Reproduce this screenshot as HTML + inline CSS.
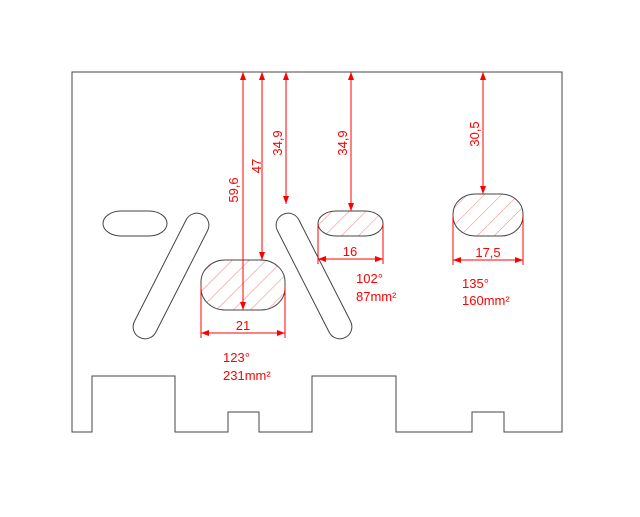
<!DOCTYPE html>
<html><head><style>html,body{margin:0;padding:0;background:#fff}</style></head><body>
<svg width="640" height="512" viewBox="0 0 640 512" xmlns="http://www.w3.org/2000/svg" font-family="Liberation Sans, sans-serif">
<defs>
<pattern id="h" patternUnits="userSpaceOnUse" width="12" height="12" patternTransform="rotate(45)">
<line x1="0" y1="0" x2="0" y2="12" stroke="#f08080" stroke-width="1"/>
</pattern>
<marker id="a" markerWidth="8" markerHeight="6" refX="8" refY="3" orient="auto-start-reverse" markerUnits="userSpaceOnUse">
<path d="M0,0 L8,3 L0,6 z" fill="red"/>
</marker>
</defs>
<g fill="none" stroke="#444" stroke-width="1">
<path d="M72,72 H562 V432 H504 V412 H472 V432 H396 V376 H312 V432 H259 V412 H228 V432 H175 V376 H92 V432 H72 Z"/>
<rect x="103" y="211" width="64" height="25" rx="18" ry="12.5"/>
<rect x="159" y="207" width="24" height="138" rx="12" transform="rotate(27 171 276)"/>
<rect x="302" y="207" width="24" height="138" rx="12" transform="rotate(-27 314 276)"/>
<rect x="201" y="260" width="84" height="50" rx="24" ry="22" fill="url(#h)"/>
<rect x="318" y="211" width="65" height="25" rx="18" ry="12.5" fill="url(#h)"/>
<rect x="453" y="194" width="70" height="42" rx="22" ry="20" fill="url(#h)"/>
</g>
<g stroke="red" stroke-width="1" fill="none">
<line x1="243" y1="72" x2="243" y2="310" marker-start="url(#a)" marker-end="url(#a)"/>
<line x1="262" y1="72" x2="262" y2="260" marker-start="url(#a)" marker-end="url(#a)"/>
<line x1="286" y1="72" x2="286" y2="204" marker-start="url(#a)" marker-end="url(#a)"/>
<line x1="351" y1="72" x2="351" y2="211" marker-start="url(#a)" marker-end="url(#a)"/>
<line x1="483" y1="72" x2="483" y2="194" marker-start="url(#a)" marker-end="url(#a)"/>
<line x1="201" y1="285" x2="201" y2="338"/><line x1="285" y1="285" x2="285" y2="338"/>
<line x1="201" y1="333" x2="285" y2="333" marker-start="url(#a)" marker-end="url(#a)"/>
<line x1="318" y1="224" x2="318" y2="264"/><line x1="383" y1="224" x2="383" y2="264"/>
<line x1="318" y1="259" x2="383" y2="259" marker-start="url(#a)" marker-end="url(#a)"/>
<line x1="453" y1="215" x2="453" y2="265"/><line x1="523" y1="215" x2="523" y2="265"/>
<line x1="453" y1="260" x2="523" y2="260" marker-start="url(#a)" marker-end="url(#a)"/>
</g>
<g fill="red" font-size="13">
<text transform="translate(238,190) rotate(-90)" text-anchor="middle">59,6</text>
<text transform="translate(261,166) rotate(-90)" text-anchor="middle">47</text>
<text transform="translate(282,143) rotate(-90)" text-anchor="middle">34,9</text>
<text transform="translate(347,143) rotate(-90)" text-anchor="middle">34,9</text>
<text transform="translate(479,134) rotate(-90)" text-anchor="middle">30,5</text>
<text x="243" y="330" text-anchor="middle">21</text>
<text x="350" y="256" text-anchor="middle">16</text>
<text x="488" y="257" text-anchor="middle">17,5</text>
<text x="223" y="362">123°</text>
<text x="223" y="380">231mm²</text>
<text x="356" y="283">102°</text>
<text x="356" y="301">87mm²</text>
<text x="462" y="288">135°</text>
<text x="462" y="305">160mm²</text>
</g>
</svg>
</body></html>
